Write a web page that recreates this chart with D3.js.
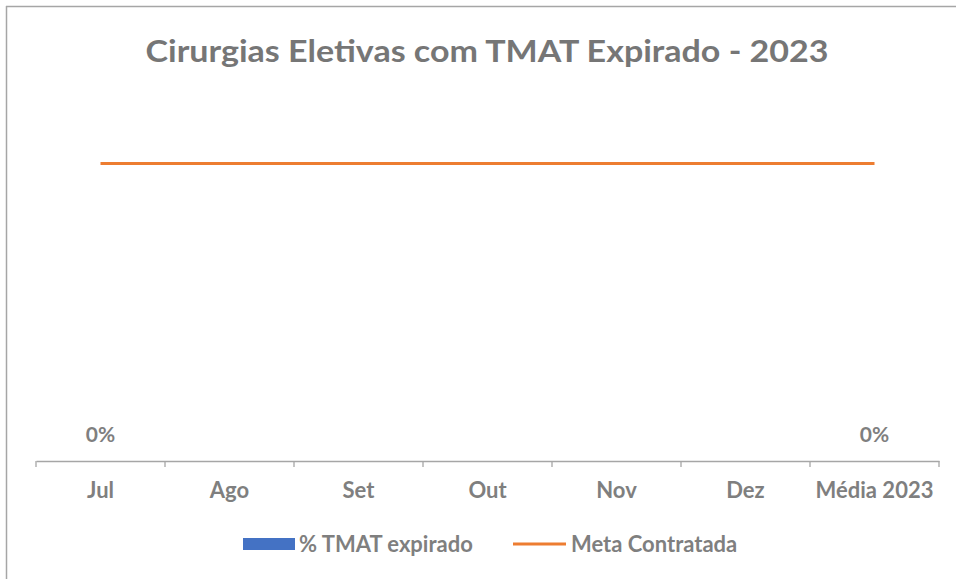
<!DOCTYPE html>
<html>
<head>
<meta charset="utf-8">
<script src="https://cdn.jsdelivr.net/npm/d3@7"></script>
<style>
  body { margin: 0; background: #fff; }
  text { font-family: Lato, "Open Sans", sans-serif; }
</style>
</head>
<body>
<div id="chart"></div>
<script>
var categories = ["Jul", "Ago", "Set", "Out", "Nov", "Dez", "Média 2023"];
var tmatExpirado = [0, null, null, null, null, null, 0];
var metaContratada = [0.05, 0.05, 0.05, 0.05, 0.05, 0.05, 0.05];
var seriesNames = ["% TMAT expirado", "Meta Contratada"];

var W = 956, H = 579;
var margin = { top: 104, right: 17, bottom: 118, left: 36 },
  width = W - margin.left - margin.right,
  height = H - margin.top - margin.bottom;

var svg = d3.select("#chart")
  .append("svg")
  .attr("width", W)
  .attr("height", H);

// chart frame (only top and left edges visible)
svg.append("line").attr("x1", 6).attr("x2", W).attr("y1", 6.5).attr("y2", 6.5)
  .attr("stroke", "#a6a6a6").attr("stroke-width", 1.5);
svg.append("line").attr("x1", 6.5).attr("x2", 6.5).attr("y1", 6).attr("y2", H)
  .attr("stroke", "#a6a6a6").attr("stroke-width", 1.5);

svg.append("text")
  .attr("x", 487)
  .attr("y", 62)
  .attr("text-anchor", "middle")
  .style("font-size", "30px")
  .style("font-weight", "bold")
  .style("fill", "#767676")
  .attr("textLength", 683)
  .attr("lengthAdjust", "spacingAndGlyphs")
  .text("Cirurgias Eletivas com TMAT Expirado - 2023");

var g = svg.append("g")
  .attr("transform", "translate(" + margin.left + "," + margin.top + ")");

var xScale = d3.scaleBand()
  .domain(categories)
  .range([0, width]);

var yScale = d3.scaleLinear()
  .domain([0, 0.06])
  .range([height, 0]);

// x axis
var xAxis = g.append("g")
  .attr("transform", "translate(0," + height + ")")
  .call(d3.axisBottom(xScale).tickSize(0).tickPadding(21));
xAxis.select(".domain").attr("stroke", "#a6a6a6").attr("stroke-width", 1.3);
xAxis.selectAll("text")
  .style("font-family", "Lato, sans-serif")
  .style("font-size", "22px")
  .style("font-weight", "bold")
  .style("fill", "#7f7f7f");

// band boundary ticks
var bounds = categories.map(function (c) { return xScale(c); }).concat([width]);
g.append("g").selectAll("line")
  .data(bounds)
  .enter()
  .append("line")
  .attr("x1", function (d) { return d; })
  .attr("x2", function (d) { return d; })
  .attr("y1", height)
  .attr("y2", height + 6)
  .attr("stroke", "#a6a6a6")
  .attr("stroke-width", 1.3);

// bars
var barData = categories.map(function (c, i) { return { cat: c, v: tmatExpirado[i] }; })
  .filter(function (d) { return d.v !== null; });
var barW = xScale.bandwidth() * 0.55;

g.append("g").selectAll("rect")
  .data(barData)
  .enter()
  .append("rect")
  .attr("x", function (d) { return xScale(d.cat) + (xScale.bandwidth() - barW) / 2; })
  .attr("y", function (d) { return yScale(d.v); })
  .attr("width", barW)
  .attr("height", function (d) { return height - yScale(d.v); })
  .style("fill", "#4472c4");

g.append("g").selectAll("text")
  .data(barData)
  .enter()
  .append("text")
  .attr("x", function (d) { return xScale(d.cat) + xScale.bandwidth() / 2; })
  .attr("y", function (d) { return yScale(d.v) - 19; })
  .attr("text-anchor", "middle")
  .style("font-size", "21px")
  .style("font-weight", "bold")
  .style("fill", "#7f7f7f")
  .text(function (d) { return d3.format(".0%")(d.v); });

// meta line
var line = d3.line()
  .x(function (d, i) { return xScale(categories[i]) + xScale.bandwidth() / 2; })
  .y(function (d) { return yScale(d); });

g.append("path")
  .datum(metaContratada)
  .attr("d", line)
  .attr("fill", "none")
  .attr("stroke", "#ed7d31")
  .attr("stroke-width", 3.2);

// legend
var legend = svg.append("g");
legend.append("rect")
  .attr("x", 243).attr("y", 538).attr("width", 52).attr("height", 12)
  .style("fill", "#4472c4");
legend.append("text")
  .attr("x", 299).attr("y", 551.5)
  .style("font-size", "22px").style("font-weight", "bold").style("fill", "#7f7f7f")
  .text(seriesNames[0]);
legend.append("line")
  .attr("x1", 513).attr("x2", 566).attr("y1", 544).attr("y2", 544)
  .attr("stroke", "#ed7d31").attr("stroke-width", 3.2);
legend.append("text")
  .attr("x", 571).attr("y", 551.5)
  .style("font-size", "22px").style("font-weight", "bold").style("fill", "#7f7f7f")
  .text(seriesNames[1]);
</script>
</body>
</html>
